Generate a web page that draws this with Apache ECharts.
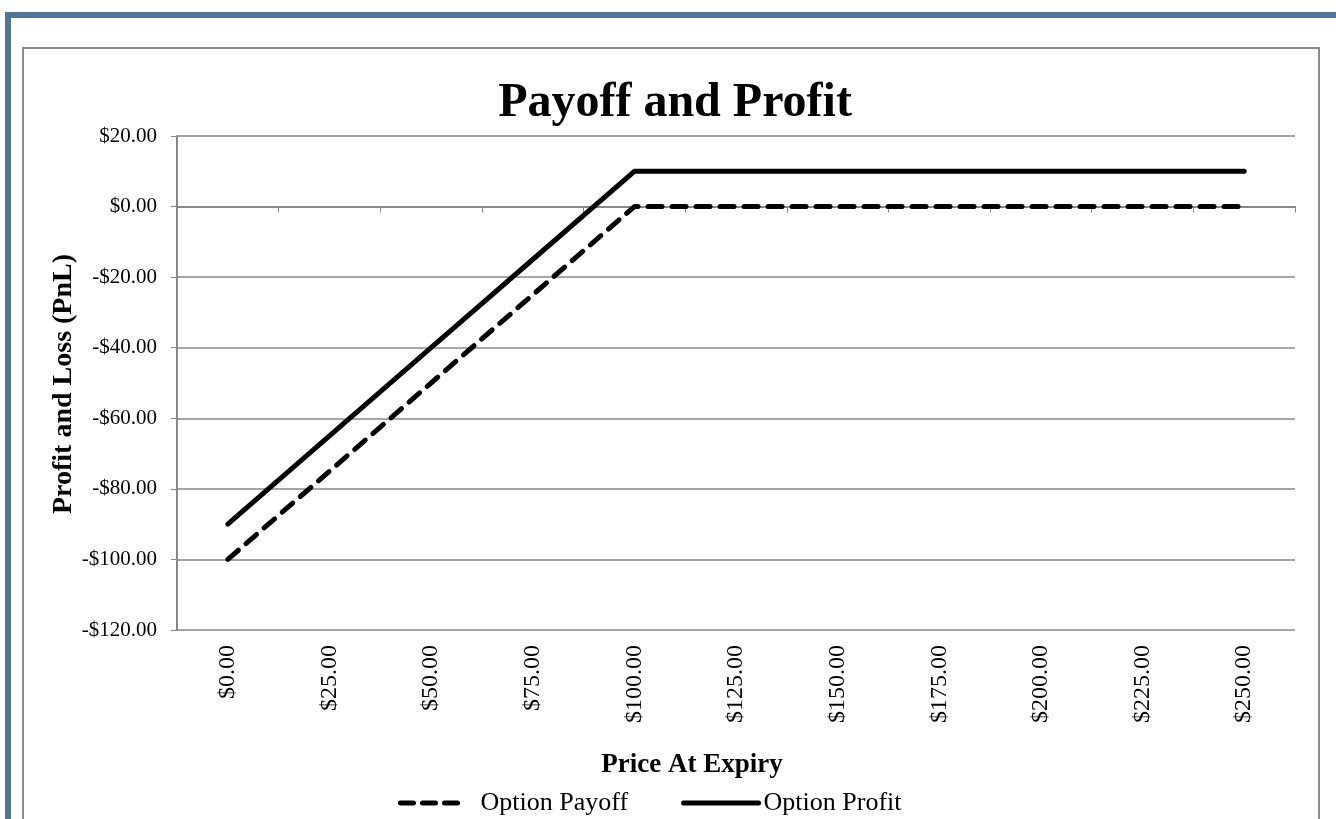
<!DOCTYPE html>
<html>
<head>
<meta charset="utf-8">
<title>Payoff and Profit</title>
<script src="https://cdn.jsdelivr.net/npm/echarts@6/dist/echarts.min.js"></script>
<style>
    html, body { margin: 0; padding: 0; background: #fff; }
    #frame {
        position: absolute; left: 5px; top: 12px; width: 1331px; height: 807px;
        border-top: 6px solid #4f7494; border-left: 6px solid #4f7494;
        box-sizing: border-box;
    }
    #box {
        position: absolute; left: 22px; top: 47px; width: 1298px; height: 790px;
        border: 2px solid #8c8c8c; box-sizing: border-box;
    }
    #chart { position: absolute; left: 0; top: 0; width: 1336px; height: 819px; }
</style>
</head>
<body>
<div id="frame"></div>
<div id="box"></div>
<div id="chart"></div>
<script>
// 数据
var prices = ['$0.00', '$25.00', '$50.00', '$75.00', '$100.00', '$125.00',
    '$150.00', '$175.00', '$200.00', '$225.00', '$250.00'];
var optionPayoff = [-100, -75, -50, -25, 0, 0, 0, 0, 0, 0, 0];
var optionProfit = [-90, -65, -40, -15, 10, 10, 10, 10, 10, 10, 10];
var yTicks = [-120, -100, -80, -60, -40, -20, 0, 20];

var serif = '"Liberation Serif", "Times New Roman", serif';
var gray = '#888888';

function money(v) {
    return (v < 0 ? '-' : '') + '$' + Math.abs(v).toFixed(2);
}

echarts.init(document.getElementById('chart')).setOption({
    backgroundColor: 'transparent',
    animation: false,
    title: {
        text: 'Payoff and Profit',
        left: 670,
        top: 75,
        textAlign: 'center',
        textStyle: {
            fontFamily: serif,
            fontSize: 48,
            fontWeight: 'bold',
            color: '#000'
        }
    },
    legend: {
        left: 393,
        top: 785,
        itemWidth: 75,
        itemHeight: 14,
        itemGap: 53,
        itemStyle: { opacity: 0 },
        textStyle: { fontFamily: serif, fontSize: 26, color: '#000' },
        data: [
            {
                name: 'Option Payoff',
                lineStyle: { width: 5, type: [13, 9, 13, 9, 13, 60], cap: 'round' }
            },
            {
                name: 'Option Profit',
                lineStyle: { width: 5, cap: 'round' }
            }
        ]
    },
    graphic: [
        {
            type: 'text',
            x: 64,
            y: 384,
            rotation: Math.PI / 2,
            style: {
                text: 'Profit and Loss (PnL)',
                font: 'bold 28px ' + serif,
                fill: '#000',
                align: 'center',
                verticalAlign: 'middle'
            }
        },
        {
            type: 'text',
            x: 692,
            y: 765,
            style: {
                text: 'Price At Expiry',
                font: 'bold 27px ' + serif,
                fill: '#000',
                align: 'center',
                verticalAlign: 'middle'
            }
        }
    ],
    grid: {
        left: 177,
        top: 136,
        right: 41,
        bottom: 189,
        containLabel: false
    },
    xAxis: [
        {
            // 零线上的坐标轴
            type: 'category',
            boundaryGap: true,
            data: prices,
            axisLine: { onZero: true, lineStyle: { color: gray, width: 2 } },
            axisTick: { show: true, interval: 0, length: 6, lineStyle: { color: gray, width: 1 } },
            axisLabel: { show: false },
            splitLine: { show: false }
        },
        {
            // 底部标签
            type: 'category',
            position: 'bottom',
            boundaryGap: true,
            data: prices,
            axisLine: { show: false, onZero: false },
            axisTick: { show: false },
            axisLabel: {
                interval: 0,
                rotate: 90,
                margin: 15,
                fontFamily: serif,
                fontSize: 24,
                color: '#000'
            },
            splitLine: { show: false }
        }
    ],
    yAxis: {
        type: 'value',
        min: yTicks[0],
        max: yTicks[yTicks.length - 1],
        interval: 20,
        axisLine: { show: true, lineStyle: { color: gray, width: 2 } },
        axisTick: { show: true, length: 6, lineStyle: { color: gray } },
        axisLabel: {
            margin: 20,
            fontFamily: serif,
            fontSize: 21,
            color: '#000',
            formatter: money
        },
        splitLine: { show: true, lineStyle: { color: gray, width: 1.5 } }
    },
    series: [
        {
            name: 'Option Payoff',
            type: 'line',
            xAxisIndex: 0,
            data: optionPayoff,
            symbol: 'none',
            lineStyle: { color: '#000', width: 5, type: [14, 10], cap: 'round', join: 'round' },
            itemStyle: { color: '#000' },
            z: 3
        },
        {
            name: 'Option Profit',
            type: 'line',
            xAxisIndex: 0,
            data: optionProfit,
            symbol: 'none',
            lineStyle: { color: '#000', width: 5, cap: 'round', join: 'round' },
            itemStyle: { color: '#000' },
            z: 3
        }
    ]
});
</script>
</body>
</html>
